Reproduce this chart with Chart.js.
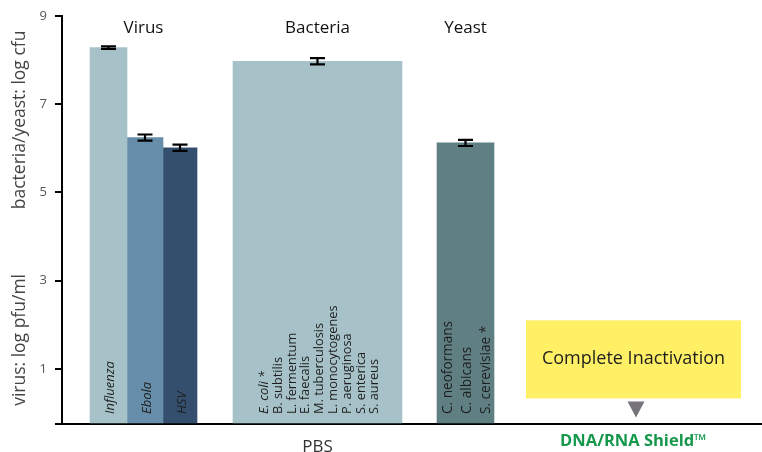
<!DOCTYPE html>
<html lang="en">
<head>
<meta charset="utf-8">
<title>Complete Inactivation</title>
<script src="https://cdn.jsdelivr.net/npm/chart.js@4.4.1/dist/chart.umd.min.js"></script>
<style>
  html, body { margin: 0; padding: 0; background: #fff; }
  #caixa { width: 762px; height: 452px; }
</style>
</head>
<body>
<div id="caixa"><canvas id="grafico"></canvas></div>
<script>
// Dados do gráfico
var categorias = ["Influenza", "Ebola", "HSV", "Bacteria", "Yeast"];
var valores = [8.28, 6.24, 6.01, 7.97, 6.12];
var erros = [0.03, 0.07, 0.07, 0.07, 0.07];
var rotulosBarras = [
  ["Influenza"],
  ["Ebola"],
  ["HSV"],
  ["E. coli *", "B. subtilis", "L. fermentum", "E. faecalis", "M. tuberculosis",
   "L. monocytogenes", "P. aeruginosa", "S. enterica", "S. aureus"],
  ["C. neoformans", "C. albicans", "S. cerevisiae *"]
];
var rotulosItalicos = ["Influenza", "Ebola", "HSV", "E. coli *"];
var grupos = ["Virus", "Bacteria", "Yeast"];
var grupoDaBarra = [0, 0, 0, 1, 2];
var condicoes = ["PBS", "DNA/RNA Shield\u2122"];
var ticksY = [1, 3, 5, 7, 9];
var tituloEixoY = ["virus: log pfu/ml", "bacteria/yeast: log cfu"];
var textoInativacao = "Complete Inactivation";

// Layout e estilos (fora dos dados)
var Y_MIN = -0.25;
var Y_MAX = 9;
var posicaoBarra = [46.5, 83, 118, 255.5, 403.5];
var larguraBarra = [37, 36, 34, 169, 57];
var posicaoCondicao = [255.5, 571.5];
var coresBarra = ["#a6c2c8", "#668da9", "#344f6d", "#a6c2c8", "#607f83"];
var fonteRotulo = [13, 13, 13, 12.8, 13.6];
var espacoLinha = [0, 0, 0, 13.8, 19];
var FONTE = "'Open Sans', 'Noto Sans', sans-serif";
var VERDE = "#16984c";

// Função para montar um dataset por barra
function montarDatasets() {
  return categorias.map(function (nome, i) {
    return {
      label: nome,
      data: [{ x: posicaoBarra[i], y: valores[i] }],
      backgroundColor: coresBarra[i],
      barThickness: larguraBarra[i],
      base: Y_MIN,
      grouped: false,
    };
  });
}

// Plugin: barras de erro
var pluginErros = {
  id: "erros",
  afterDatasetsDraw: function (chart) {
    var ctx = chart.ctx;
    var y = chart.scales.y;
    ctx.save();
    ctx.strokeStyle = "#000";
    ctx.lineWidth = 2.2;
    categorias.forEach(function (nome, i) {
      var barra = chart.getDatasetMeta(i).data[0];
      var topo = y.getPixelForValue(valores[i] + erros[i]);
      var fundo = y.getPixelForValue(valores[i] - erros[i]);
      ctx.beginPath();
      ctx.moveTo(barra.x, topo);
      ctx.lineTo(barra.x, fundo);
      ctx.moveTo(barra.x - 7.5, topo);
      ctx.lineTo(barra.x + 7.5, topo);
      ctx.moveTo(barra.x - 7.5, fundo);
      ctx.lineTo(barra.x + 7.5, fundo);
      ctx.stroke();
    });
    ctx.restore();
  },
};

// Plugin: textos (rótulos nas barras, grupos, título do eixo, caixa amarela)
var pluginTextos = {
  id: "textos",
  afterDraw: function (chart) {
    var ctx = chart.ctx;
    var area = chart.chartArea;
    var x = chart.scales.x;
    var y = chart.scales.y;
    ctx.save();

    // Rótulos verticais dentro das barras
    rotulosBarras.forEach(function (linhas, i) {
      var barra = chart.getDatasetMeta(i).data[0];
      var n = linhas.length;
      linhas.forEach(function (linha, j) {
        var italico = rotulosItalicos.indexOf(linha) >= 0 ? "italic " : "";
        ctx.save();
        ctx.translate(barra.x + 2 + (j - (n - 1) / 2) * espacoLinha[i], area.bottom - 10);
        ctx.rotate(-Math.PI / 2);
        ctx.font = italico + fonteRotulo[i] + "px " + FONTE;
        ctx.fillStyle = "#1e1e1e";
        ctx.textAlign = "left";
        ctx.textBaseline = "middle";
        ctx.fillText(linha, 0, 0);
        ctx.restore();
      });
    });

    // Títulos dos grupos
    grupos.forEach(function (grupo, g) {
      var esq = Infinity, dir = -Infinity;
      grupoDaBarra.forEach(function (gb, i) {
        if (gb !== g) return;
        var barra = chart.getDatasetMeta(i).data[0];
        esq = Math.min(esq, barra.x - barra.width / 2);
        dir = Math.max(dir, barra.x + barra.width / 2);
      });
      ctx.font = "17px " + FONTE;
      ctx.fillStyle = "#111";
      ctx.textAlign = "center";
      ctx.textBaseline = "middle";
      ctx.fillText(grupo, (esq + dir) / 2, area.top + 12);
    });

    // Título do eixo Y (duas partes)
    ctx.font = "17.5px " + FONTE;
    ctx.fillStyle = "#444";
    ctx.textAlign = "center";
    ctx.textBaseline = "middle";
    var centros = [area.top + area.height * 0.794, area.top + area.height * 0.255];
    tituloEixoY.forEach(function (texto, k) {
      ctx.save();
      ctx.translate(20, centros[k]);
      ctx.rotate(-Math.PI / 2);
      ctx.fillText(texto, 0, 0);
      ctx.restore();
    });

    // Caixa amarela de inativação completa
    var cx = x.getPixelForValue(posicaoCondicao[1]);
    var topo = y.getPixelForValue(2.1);
    var fundo = y.getPixelForValue(0.33);
    ctx.fillStyle = "#fff066";
    ctx.fillRect(cx - 107.5, topo, 215, fundo - topo);
    ctx.font = "18px " + FONTE;
    ctx.fillStyle = "#1e1e1e";
    ctx.fillText(textoInativacao, cx, (topo + fundo) / 2);

    // Triângulo cinza abaixo da caixa
    ctx.fillStyle = "#77737a";
    ctx.beginPath();
    ctx.moveTo(cx - 6, fundo + 3);
    ctx.lineTo(cx + 11, fundo + 3);
    ctx.lineTo(cx + 2.5, fundo + 19);
    ctx.closePath();
    ctx.fill();

    ctx.restore();
  },
};

// Função para criar o gráfico
function criarGrafico() {
  var ctx = document.getElementById("grafico").getContext("2d");
  return new Chart(ctx, {
    type: "bar",
    data: { datasets: montarDatasets() },
    options: {
      responsive: true,
      maintainAspectRatio: false,
      animation: false,
      layout: { padding: { top: 12, left: 0, right: 0, bottom: 0 } },
      plugins: {
        legend: { display: false },
        tooltip: { enabled: false },
      },
      scales: {
        x: {
          type: "linear",
          min: 0,
          max: 700,
          offset: false,
          afterBuildTicks: function (scale) {
            scale.ticks = posicaoCondicao.map(function (v) { return { value: v }; });
          },
          afterFit: function (scale) { scale.height = 28; },
          ticks: {
            autoSkip: false,
            maxRotation: 0,
            padding: 7,
            callback: function (v, i) { return condicoes[i]; },
            color: function (c) { return c.index === 1 ? VERDE : "#333"; },
            font: function (c) {
              return c.index === 1
                ? { family: FONTE, size: 16.5, weight: "bold", lineHeight: 1.2 }
                : { family: FONTE, size: 17, lineHeight: 1.85 };
            },
          },
          grid: { display: false, drawTicks: false },
          border: { color: "#000", width: 2 },
        },
        y: {
          min: Y_MIN,
          max: Y_MAX,
          afterBuildTicks: function (scale) {
            scale.ticks = [{ value: Y_MIN }].concat(ticksY.map(function (v) { return { value: v }; }));
          },
          afterFit: function (scale) { scale.width = 62; },
          ticks: {
            autoSkip: false,
            padding: 8,
            color: "#555",
            font: { family: FONTE, size: 13 },
            callback: function (v) { return ticksY.indexOf(v) >= 0 ? String(v) : ""; },
          },
          grid: { drawOnChartArea: false, color: "#000", lineWidth: 2, tickLength: 7 },
          border: { color: "#000", width: 2 },
        },
      },
    },
    plugins: [pluginErros, pluginTextos],
  });
}

criarGrafico();
</script>
</body>
</html>
